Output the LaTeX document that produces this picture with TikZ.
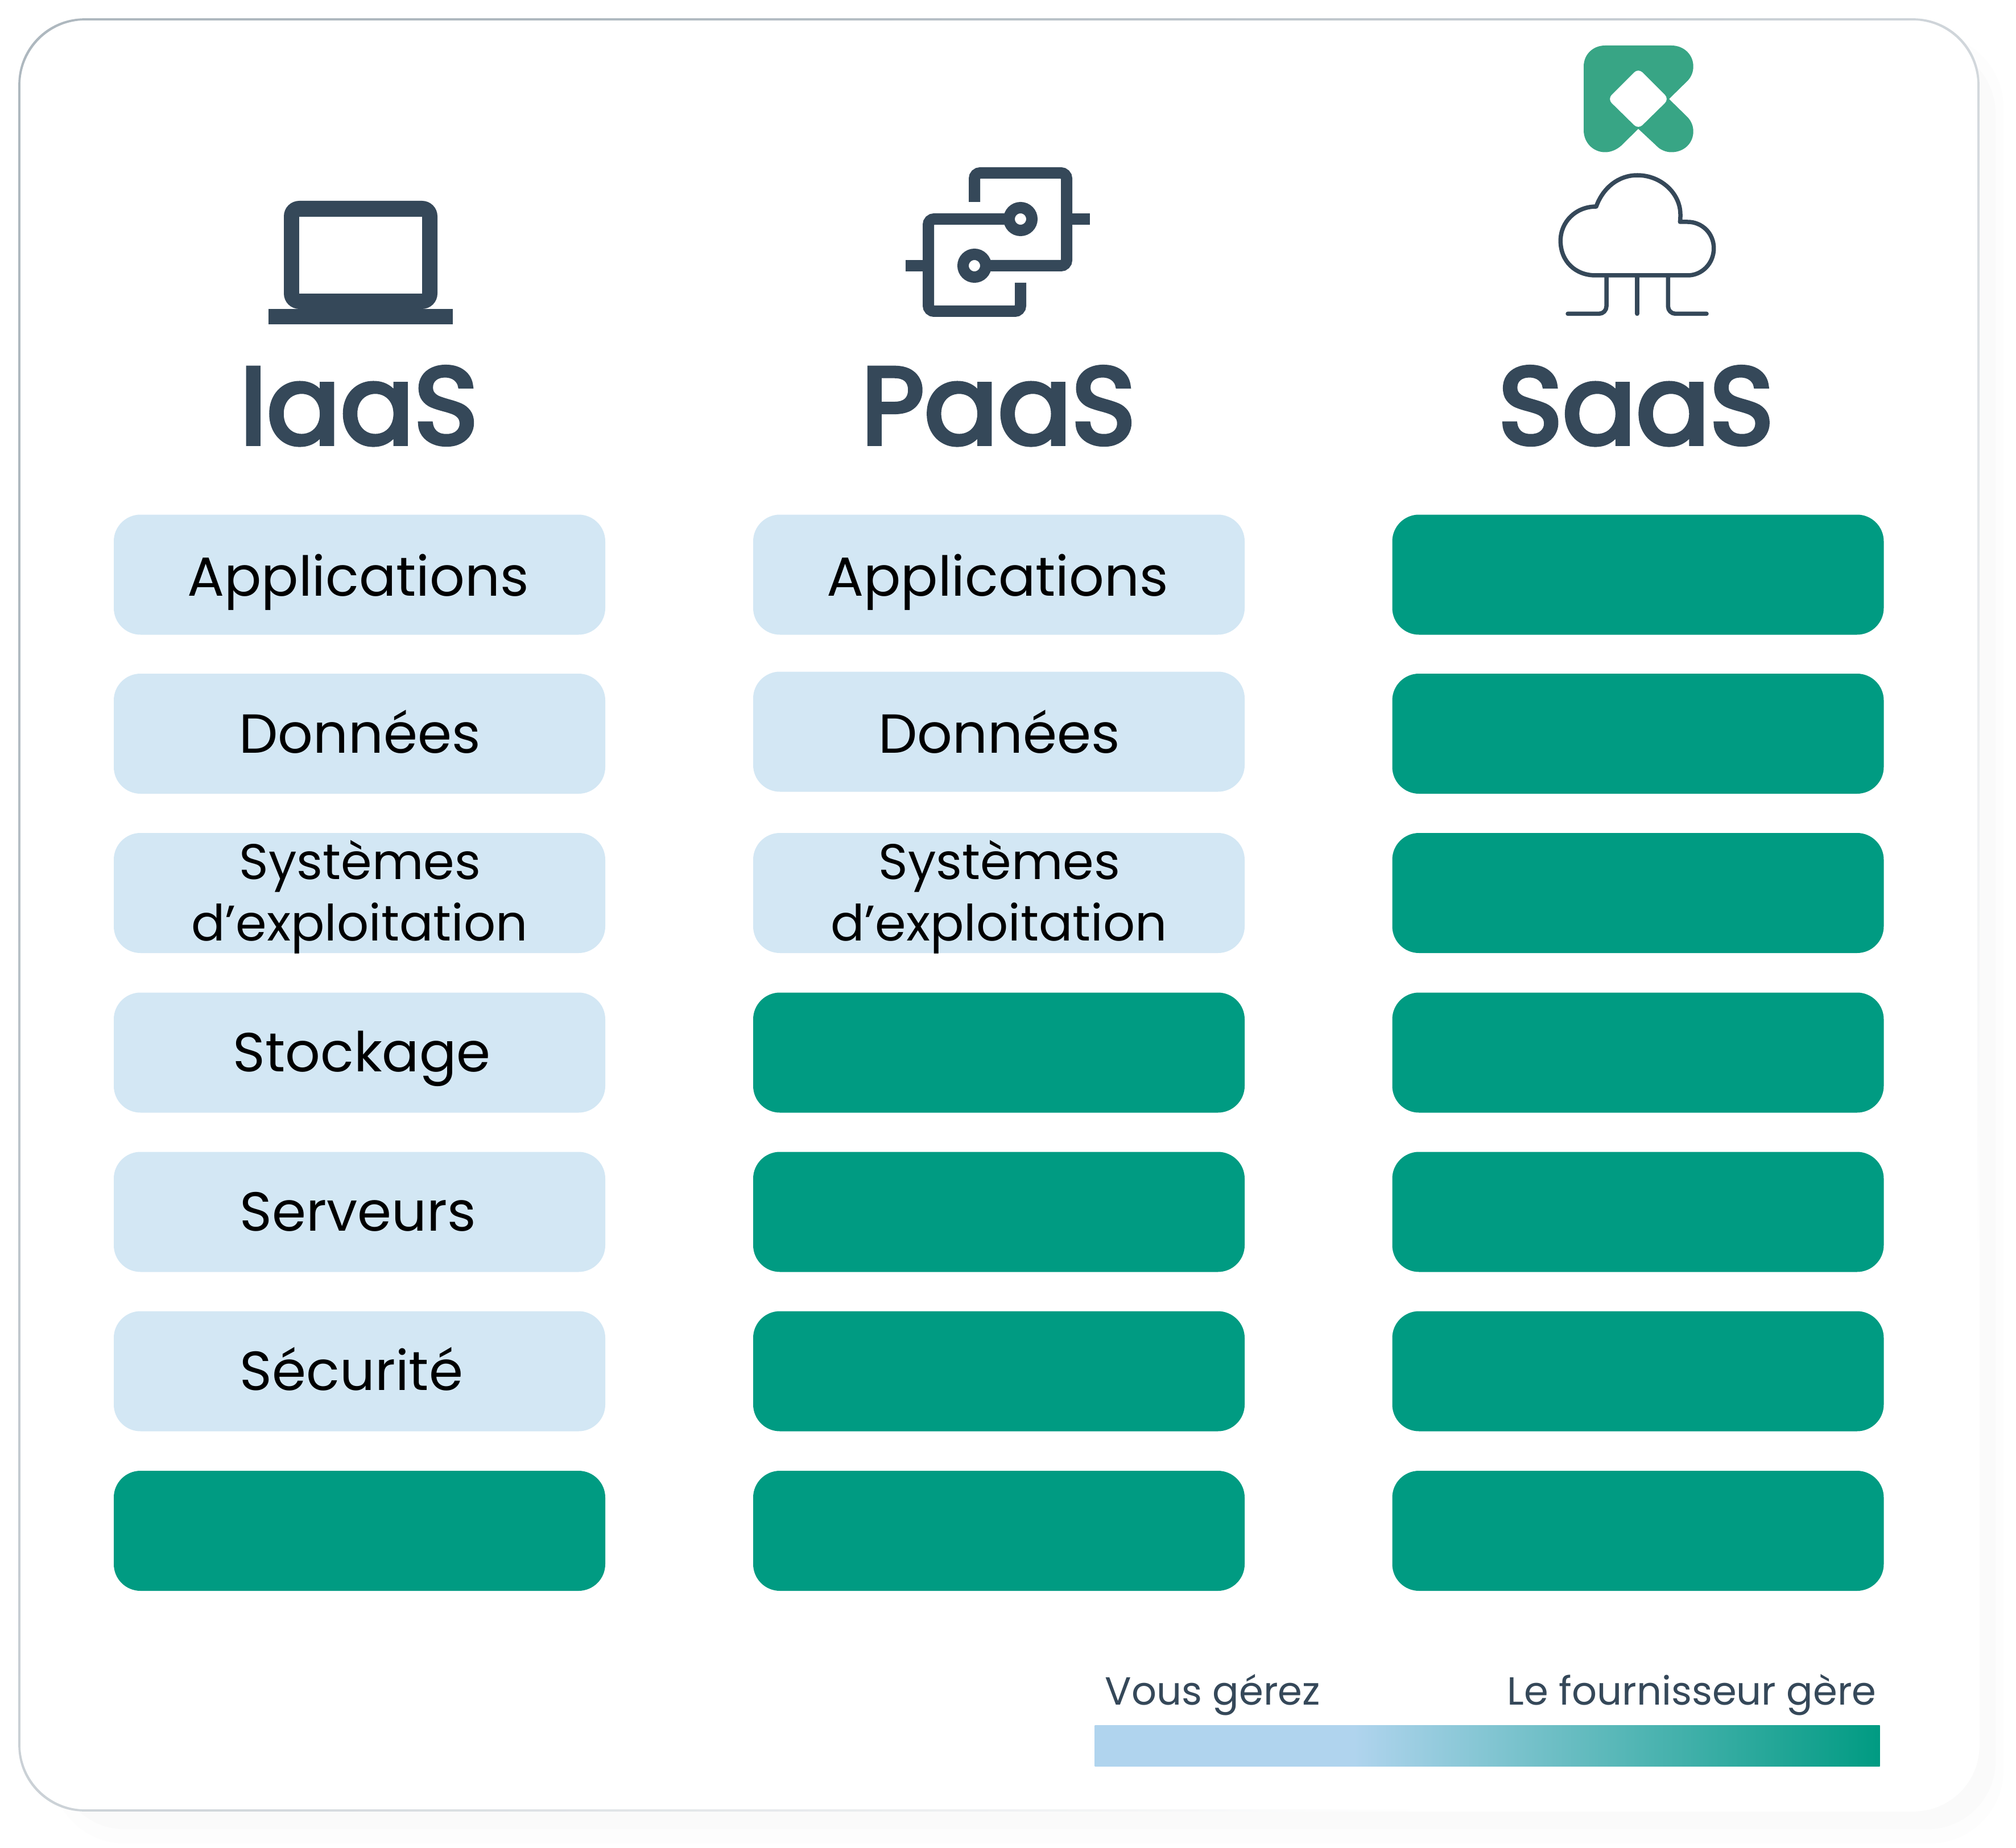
\documentclass[tikz,border=0pt]{standalone}
\usepackage{fontspec}
\setmainfont{Poppins}
\newfontfamily\titlefont[FakeBold=4]{Poppins}
\definecolor{slateink}{HTML}{354859}
\definecolor{paleblue}{HTML}{D3E7F4}
\definecolor{barblue}{HTML}{B0D4EE}
\definecolor{teal}{HTML}{009B82}
\definecolor{logogreen}{HTML}{38A585}
\definecolor{cardline}{HTML}{AEB8BF}
\definecolor{cardmid}{HTML}{CDD3D8}
\pgfdeclarehorizontalshading{legendfade}{100bp}{color(0bp)=(barblue); color(41.5bp)=(barblue); color(75bp)=(teal); color(100bp)=(teal)}
\tikzset{
  cell/.style={rounded corners=0.47cm,minimum width=8.64cm,minimum height=2.11cm,inner sep=0pt,draw=none},
  mine/.style={cell,fill=paleblue},
  theirs/.style={cell,fill=teal},
  cell text/.style={anchor=base,inner sep=0pt,text=black,font=\fontsize{27.5}{32}\selectfont},
  small cell text/.style={cell text,font=\fontsize{25}{30}\selectfont},
  title text/.style={anchor=base,inner sep=0pt,text=slateink,font=\fontsize{54.5}{62}\titlefont},
  legend text/.style={anchor=base west,inner sep=0pt,text=slateink,font=\fontsize{19.6}{23}\selectfont},
  icon line/.style={draw=slateink,line width=0.2cm,fill=none},
  cloud line/.style={draw=slateink,line width=0.075cm,line cap=round,line join=round,fill=none}
}
\begin{document}
\begin{tikzpicture}[x=1cm,y=1cm]
\useasboundingbox (0,0) rectangle (35.44,-32.48);
\path[fill=white,draw=none] (0,0) rectangle (35.44,-32.48);
\path[fill=black!0.8,draw=none,rounded corners=1.3cm] (0.9,-0.6) rectangle (35.22,-32.4);
\path[fill=black!2,draw=none,rounded corners=1.2cm] (1,-0.8) rectangle (35.08,-32.15);
\path[fill=white,draw=none,rounded corners=1.16cm] (0.34,-0.34) rectangle (34.78,-31.82);
\shade[even odd rule,top color=cardline,bottom color=white,middle color=cardmid,shading angle=45,rounded corners=1.16cm] (0.322,-0.322) rectangle (34.798,-31.838) [rounded corners=1.143cm] (0.358,-0.358) rectangle (34.762,-31.802);
% laptop
\path[fill=slateink,draw=none,rounded corners=0.27cm] (4.99,-3.53) rectangle (7.69,-5.43);
\path[fill=white,draw=none] (5.26,-3.81) rectangle (7.42,-5.16);
\path[fill=slateink,draw=none] (4.72,-5.43) rectangle (7.96,-5.70);
% linked boxes
\draw[icon line,rounded corners=0.1cm] (17.13,-3.55) -- (17.13,-3.04) -- (18.75,-3.04) -- (18.75,-4.67) -- (17.33,-4.67);
\draw[icon line,rounded corners=0.1cm] (17.74,-3.85) -- (16.32,-3.85) -- (16.32,-5.47) -- (17.94,-5.47) -- (17.94,-4.97);
\draw[icon line] (15.92,-4.67) -- (16.32,-4.67);
\draw[icon line] (18.75,-3.85) -- (19.16,-3.85);
\node[circle,icon line,inner sep=0pt,minimum size=0.4cm] (link-left) at (17.13,-4.67) {};
\node[circle,icon line,inner sep=0pt,minimum size=0.4cm] (link-right) at (17.94,-3.85) {};
% logo
\path[fill=logogreen,draw=none] (28.217,-0.8) -- (29.383,-0.8) .. controls (29.6,-0.8) and (29.767,-0.96) .. (29.767,-1.168) .. controls (29.767,-1.28) and (29.72,-1.37) .. (29.65,-1.436) -- (29.34,-1.74) -- (29.65,-2.043) .. controls (29.72,-2.11) and (29.767,-2.2) .. (29.767,-2.31) .. controls (29.767,-2.52) and (29.6,-2.675) .. (29.383,-2.675) .. controls (29.28,-2.675) and (29.18,-2.63) .. (29.117,-2.56) -- (28.8,-2.264) -- (28.5,-2.56) .. controls (28.42,-2.63) and (28.32,-2.675) .. (28.217,-2.675) .. controls (28,-2.675) and (27.84,-2.5) .. (27.84,-2.29) -- (27.84,-1.168) .. controls (27.84,-0.96) and (28,-0.8) .. (28.217,-0.8) -- cycle;
\path[fill=white,draw=none,rounded corners=0.1cm] (28.8,-1.2) -- (29.34,-1.74) -- (28.8,-2.27) -- (28.26,-1.74) -- cycle;
% cloud
\draw[cloud line] (28.05,-4.84) .. controls (27.7,-4.84) and (27.433,-4.6) .. (27.433,-4.23) .. controls (27.433,-3.9) and (27.7,-3.63) .. (28.06,-3.63) .. controls (28.18,-3.3) and (28.45,-3.08) .. (28.783,-3.08) .. controls (29.2,-3.08) and (29.54,-3.4) .. (29.54,-3.77) .. controls (29.54,-3.82) and (29.54,-3.86) .. (29.533,-3.9) -- (29.667,-3.9) .. controls (29.92,-3.9) and (30.127,-4.1) .. (30.127,-4.364) .. controls (30.127,-4.63) and (29.92,-4.84) .. (29.667,-4.84) -- cycle;
\draw[cloud line,rounded corners=0.13cm] (28.24,-4.84) -- (28.24,-5.514) -- (27.56,-5.514);
\draw[cloud line] (28.78,-4.84) -- (28.78,-5.514);
\draw[cloud line,rounded corners=0.13cm] (29.323,-4.84) -- (29.323,-5.514) -- (30,-5.514);
% titles
\node[title text] (title-iaas) at (6.31,-7.8) {IaaS};
\node[title text] (title-paas) at (17.55,-7.8) {PaaS};
\node[title text] (title-saas) at (28.76,-7.8) {SaaS};
% IaaS column
\node[mine] (cell-0-0) at (6.32,-10.10) {};
\node[mine] (cell-0-1) at (6.32,-12.895) {};
\node[mine] (cell-0-2) at (6.32,-15.695) {};
\node[mine] (cell-0-3) at (6.32,-18.50) {};
\node[mine] (cell-0-4) at (6.32,-21.30) {};
\node[mine] (cell-0-5) at (6.32,-24.10) {};
\node[theirs] (cell-0-6) at (6.32,-26.905) {};
\node[cell text] (label-0-0) at (6.295,-10.47) {Applications};
\node[cell text] (label-0-1) at (6.325,-13.235) {Données};
\node[small cell text] (label-0-2) at (6.33,-15.45) {Systèmes};
\node[small cell text] (label-0-2b) at (6.32,-16.53) {d’exploitation};
\node[cell text] (label-0-3) at (6.36,-18.83) {Stockage};
\node[cell text] (label-0-4) at (6.29,-21.63) {Serveurs};
\node[cell text] (label-0-5) at (6.18,-24.43) {Sécurité};
% PaaS column
\node[mine] (cell-1-0) at (17.56,-10.10) {};
\node[mine] (cell-1-1) at (17.56,-12.86) {};
\node[mine] (cell-1-2) at (17.56,-15.695) {};
\node[theirs] (cell-1-3) at (17.56,-18.50) {};
\node[theirs] (cell-1-4) at (17.56,-21.30) {};
\node[theirs] (cell-1-5) at (17.56,-24.10) {};
\node[theirs] (cell-1-6) at (17.56,-26.905) {};
\node[cell text] (label-1-0) at (17.535,-10.47) {Applications};
\node[cell text] (label-1-1) at (17.565,-13.235) {Données};
\node[small cell text] (label-1-2) at (17.57,-15.45) {Systèmes};
\node[small cell text] (label-1-2b) at (17.56,-16.53) {d’exploitation};
% SaaS column
\node[theirs] (cell-2-0) at (28.795,-10.10) {};
\node[theirs] (cell-2-1) at (28.795,-12.895) {};
\node[theirs] (cell-2-2) at (28.795,-15.695) {};
\node[theirs] (cell-2-3) at (28.795,-18.50) {};
\node[theirs] (cell-2-4) at (28.795,-21.30) {};
\node[theirs] (cell-2-5) at (28.795,-24.10) {};
\node[theirs] (cell-2-6) at (28.795,-26.905) {};
% legend
\node[legend text] (legend-you) at (19.42,-29.96) {Vous gérez};
\node[legend text] (legend-vendor) at (26.49,-29.96) {Le fournisseur gère};
\node[shade,shading=legendfade,inner sep=0pt,minimum width=13.80cm,minimum height=0.72cm,anchor=north west] (legend-bar) at (19.24,-30.32) {};
\end{tikzpicture}
\end{document}
